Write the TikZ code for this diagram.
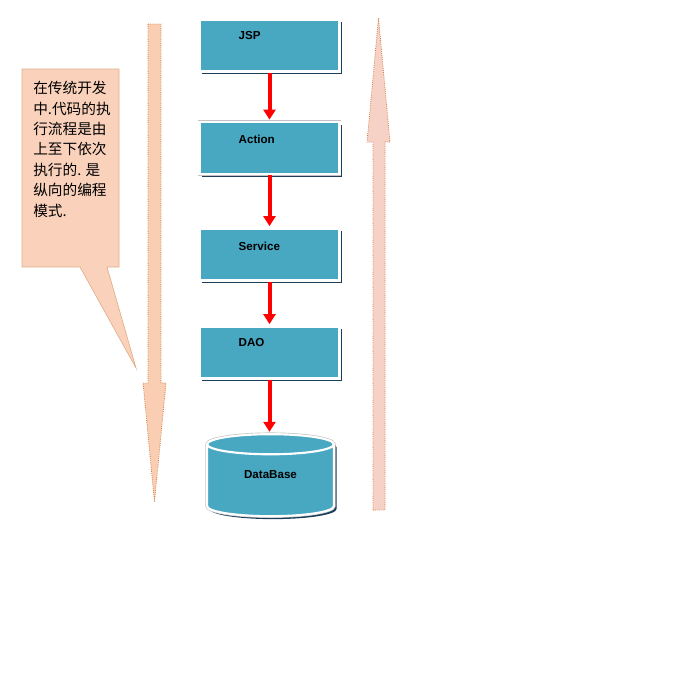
\documentclass[tikz,border=0pt]{standalone}
\usepackage{fontspec}
\setmainfont{Liberation Sans}
\newfontfamily\cjk{Noto Sans CJK SC}
\usetikzlibrary{positioning, arrows.meta, shapes.geometric, shadows}
\definecolor{tierblue}{RGB}{72,168,194}
\definecolor{notepeach}{RGB}{250,210,188}
\definecolor{downpeach}{RGB}{250,206,178}
\definecolor{uppink}{RGB}{246,210,198}
\definecolor{rimgray}{RGB}{196,196,196}
\definecolor{shadeblue}{RGB}{28,62,92}
\definecolor{edgebrown}{RGB}{205,120,60}

\begin{document}
\begin{tikzpicture}[x=0.75pt, y=-0.75pt, >=Stealth,
      tierbase/.style={fill=tierblue, draw=white, line width=1.6pt,
        drop shadow={shadow xshift=2pt, shadow yshift=-2.2pt, fill=shadeblue, opacity=1},
        preaction={draw=rimgray, line width=2.6pt}},
      tier/.style={tierbase, minimum width=105pt, minimum height=39pt, inner sep=0pt},
      store/.style={tierbase, cylinder, shape border rotate=90, aspect=0.33,
        minimum width=95pt, minimum height=61.5pt, inner xsep=3pt, text depth=12pt,
        font=\bfseries\fontsize{8.7}{10}\selectfont},
      tiertext/.style={anchor=west, inner sep=0pt, font=\bfseries\fontsize{8.7}{10}\selectfont},
      flow/.style={draw=red, line width=3pt, -{Triangle[width=9pt, length=7.5pt]}, shorten >=1pt},
      note/.style={fill=notepeach, draw=edgebrown!60, line width=0.5pt},
      notetext/.style={anchor=north west, inner sep=0pt, align=left,
        font=\cjk\fontsize{11}{15.3}\selectfont},
      bigarrow/.style={draw=edgebrown, densely dotted, line width=0.6pt}]

    \useasboundingbox (0,0) rectangle (692,697);

    % layers
    \node[tier] (jsp) at (269.5,45.5) {};
    \node[tier] (action) at (269.5,148) {};
    \node[tier] (service) at (269.5,254.5) {};
    \node[tier] (dao) at (269.5,352.5) {};
    \node[store] (db) at (270.5,482.5) {DataBase};

    \node[tiertext] (jspText) at ([shift={(40,-9.5)}]jsp.west) {JSP};
    \node[tiertext] (actionText) at ([shift={(40,-9)}]action.west) {Action};
    \node[tiertext] (serviceText) at ([shift={(40,-8.5)}]service.west) {Service};
    \node[tiertext] (daoText) at ([shift={(40,-9.5)}]dao.west) {DAO};

    \draw[flow] (jsp) -- (action);
    \draw[flow] (action) -- (service);
    \draw[flow] (service) -- (dao);
    \draw[flow] (dao.south) -- (dao.south |- db.north);

    % top-down and bottom-up arrows
    \fill[downpeach] (148,24) -- (161,24) -- (161,383) -- (166,383) -- (154.5,502)
      -- (143,383) -- (148,383) -- cycle;
    \draw[bigarrow] (148,24) -- (161,24) -- (161,383) -- (166,383) -- (154.5,502)
      -- (143,383) -- (148,383) -- cycle;
    \fill[uppink] (373,510) -- (385,510) -- (385,142) -- (390,142) -- (378.5,18)
      -- (367,142) -- (373,142) -- cycle;
    \draw[bigarrow] (373,510) -- (385,510) -- (385,142) -- (390,142) -- (378.5,18)
      -- (367,142) -- (373,142) -- cycle;

    % callout
    \draw[note] (22,69) -- (119,69) -- (119,267) -- (107,267) -- (136,368)
      -- (80,267) -- (22,267) -- cycle;
    \node[notetext] (noteText) at (33,81) {在传统开发\\中.代码的执\\行流程是由\\上至下依次\\执行的. 是\\纵向的编程\\模式.};
  \end{tikzpicture}
\end{document}
